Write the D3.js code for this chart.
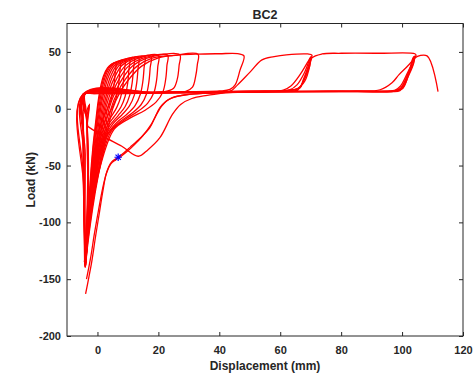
<!DOCTYPE html>
<html lang="en">
<head>
<meta charset="UTF-8">
<title>BC2</title>
<script src="https://d3js.org/d3.v7.min.js"></script>
<style>
    body { margin: 0; background: #ffffff; }
    svg { display: block; }
    .axis text {
        font-family: Arial, "Liberation Sans", sans-serif;
        font-weight: bold;
        font-size: 11px;
        fill: #262626;
    }
    .axis line { stroke: #262626; }
    .label {
        font-family: Arial, "Liberation Sans", sans-serif;
        font-weight: bold;
        fill: #262626;
    }
</style>
</head>
<body>
<svg id="chart" width="474" height="379"></svg>
<script>
// axis settings
const xTicks = [0, 20, 40, 60, 80, 100, 120];
const yTicks = [-200, -150, -100, -50, 0, 50];

// small cycles: reload from compression, peak, unload back down
const loop1 = [[-3.7,-134],[-3.1,-100],[-2.4,-64],[-1.5,-34],[-0.6,-12],[0.2,6],[1,19],[2,29],[3.3,36],[4.6,39],[6,40.5],
    [5.8,31],[5.4,20],[4.8,11],[3.8,3],[2.4,-5],[1,-14],[-0.3,-28],[-1.6,-55],[-2.8,-95],[-3.7,-134]];
const loop2 = [[-3.8,-136],[-3.1,-101],[-2.3,-65],[-1.4,-35],[-0.4,-12],[0.4,6],[1.3,19],[2.4,30],[3.8,37],[5.5,40.5],[7.5,42],
    [7.3,32],[6.9,20],[6.2,10],[5,2],[3.4,-6],[1.7,-15],[0.1,-29],[-1.4,-56],[-2.8,-96],[-3.8,-136]];
const loop3 = [[-3.9,-137],[-3.1,-102],[-2.2,-66],[-1.2,-36],[-0.2,-13],[0.7,5],[1.6,18.5],[2.8,30],[4.3,37.5],[6.3,41.2],[9,43],
    [8.8,33],[8.4,21],[7.6,10],[6.3,1],[4.5,-7],[2.5,-15],[0.6,-29],[-1.2,-57],[-2.8,-98],[-3.9,-137]];
const loop4 = [[-3.9,-138],[-3,-103],[-2.1,-67],[-1,-37],[0,-14],[1,4.5],[2,18],[3.3,30],[4.9,37.8],[7.2,42],[10.5,44],
    [10.3,34],[9.9,22],[9.1,11],[7.7,1.5],[5.6,-6.5],[3.3,-15],[1,-29],[-1,-57],[-2.8,-99],[-3.9,-138]];
const loop5 = [[-4,-139],[-3,-104],[-2,-68],[-0.8,-38],[0.3,-15],[1.3,4],[2.4,17.5],[3.8,29.5],[5.6,38],[8.2,42.5],[12,44.8],
    [11.8,35],[11.4,23],[10.6,12],[9.1,2],[6.8,-6],[4.1,-14.5],[1.5,-28],[-0.8,-57],[-2.8,-100],[-4,-139]];
const loop6 = [[-4,-139],[-2.9,-104],[-1.9,-69],[-0.6,-39],[0.6,-16],[1.7,3.5],[2.9,17],[4.4,29],[6.3,38],[9.2,43],[13.5,45.3],
    [13.3,35],[12.9,23],[12.1,12],[10.5,2.5],[8,-5.5],[5,-13.5],[2,-27],[-0.6,-57],[-2.8,-101],[-4,-139]];
const loop7 = [[-4.1,-139],[-2.9,-104],[-1.8,-70],[-0.4,-40],[0.9,-17],[2.1,3],[3.4,16.5],[5,28.5],[7.1,38],[10.4,43.5],[15.5,45.8],
    [15.3,36],[14.9,24],[14.1,13],[12.4,3],[9.6,-5],[6.2,-12.5],[2.7,-25],[-0.3,-56],[-2.7,-102],[-4.1,-139]];
const loop8 = [[-4.1,-138],[-2.8,-103],[-1.6,-70],[-0.2,-41],[1.2,-18],[2.5,2.5],[3.9,16],[5.7,28],[8,38],[11.7,43.8],[17.5,46.3],
    [17.3,36],[16.9,24],[16.1,13],[14.3,3.5],[11.3,-4],[7.4,-11.5],[3.4,-23],[0.2,-55],[-2.6,-102],[-4.1,-138]];
const loop9 = [[-4.2,-137],[-2.8,-102],[-1.5,-71],[0,-42],[1.5,-19],[2.9,2],[4.5,15.5],[6.5,27.5],[9,37.5],[13,44],[20,46.8],
    [19.8,37],[19.4,25],[18.5,14],[16.5,5],[13.2,-2.5],[9,-9.5],[4.5,-20],[0.7,-52],[-2.3,-95],[-4.2,-137]];
const loop10 = [[-4.2,-136],[-2.7,-101],[-1.3,-71],[0.3,-43],[1.9,-20],[3.4,1.5],[5.1,15],[7.3,27],[10.2,37.5],[14.5,44],[23,47.2],
    [22.8,38],[22.4,26],[21.5,15],[19.3,6],[15.5,-1.5],[10.5,-8.5],[5.5,-18],[1.2,-48],[-2,-90],[-4.2,-136]];

// cycles that unload onto the slip plateau
const loop11 = [[-4.3,-135],[-2.6,-100],[-1.1,-71],[0.6,-44],[2.3,-21],[3.9,1],[5.8,14.5],[8.2,26.5],[11.5,37.5],[16,44.3],[27,47.6],
    [26.8,38],[26.2,26],[25,18],[22,15],[12,14.3],[2,13.6],[-4,13.2],[-3.8,0],[-3.4,-15],[-3,-40],[-3,-70],[-3.4,-105],[-4,-137]];
const loop12 = [[-4.1,-138],[-2.5,-102],[-0.9,-72],[0.9,-45],[2.7,-22],[4.5,0.5],[6.5,14],[9.2,26],[13,37.5],[18,44.5],[25,47],[33,48],
    [32.8,39],[32.2,28],[31.2,19],[29,15.3],[20,14.6],[8,13.9],[-1,13.4],[-4.2,13],[-3.8,-3],[-2.8,3],[-3.3,-10],[-3.1,-40],[-3.1,-75],[-3.5,-108],[-3.9,-136]];
const loop47 = [[-3.9,-136],[-2.4,-103],[-0.7,-73],[1.2,-46],[3.1,-23],[5,0],[7.2,13.5],[10.2,25.5],[14.5,37.5],[20,44.8],[27,47.3],[33,48.1],[40,48.4],[46,48.5],[48.1,46.5],
    [46.8,34],[45.2,21],[43.5,17],[40,15.6],[25,14.8],[10,14],[-1,13.4],[-4.3,12.9],[-3.6,-6],[-3.2,-15.5]];
const loopV = [[-3.2,-15.5],[1.9,-24.3],[8,-33],[13.4,-41.8],[16.6,-36],[20.5,-25.5],[24.6,-5],[27.3,3.8],[31,9],[36,11.8],[41,13.8],[44,16],
    [46,21],[50,32],[54,43],[58,45.8],[62,47.4],[69,48.2],[70.4,47.2],[69.6,40],[67.5,25],[66.5,18.4],[63,16.2],[50,15.4],[30,14.6],[10,13.8],[-4.4,12.8],
    [-4.6,-20],[-4.5,-80],[-4.2,-137]];

// outer reload curves through the marked point
const star1 = [[-3.9,-163],[-2.8,-148],[-1.9,-135],[-0.6,-112],[0.6,-92],[1.8,-72],[3,-56],[4.6,-47],[6.8,-42.7],[8.8,-38.5],[10.7,-34],[14,-26],
    [17.2,-16.7],[19,-7],[20.5,0.9],[22.5,6.5],[24.4,9.6],[29.3,12.3],[36,13.6],[46,14.5],
    [55,15.2],[61,16.4],[63.5,20],[66.5,30],[69,41],[70.2,46],[69.6,40],[67.8,25],[66,18],[62,16],[45,15.3],[25,14.5],[5,13.6],[-4.2,13],
    [-4.4,-30],[-4.3,-90],[-4,-140]];
const star2 = [[-3.6,-150],[-2.3,-132],[-1,-110],[0.3,-90],[1.7,-70],[3,-56.5],[4.4,-48.5],[6,-45],[7.8,-41.8],[9.8,-37.5],[12,-32],[14.8,-24],
    [17.6,-14],[19.4,-5],[21,2],[23,7.5],[25.5,10.5],[30,12.6],[38,13.9],[48,14.6],
    [57,15.3],[63,16.5],[65.5,21],[68,32],[70,45.5],[69.7,38],[68,24],[65.5,17.5],[55,15.6],[35,14.8],[15,14],[-4.5,12.6],
    [-4.5,-40],[-4.2,-100],[-3.9,-138]];

// large cycles up to ~104 mm
const loop104 = [[-3.9,-138],[-4.5,-60],[-4.7,0],[-4.7,12.4],[5,13.2],[25,14],[45,14.6],[60,15.3],[65.8,16.6],[67.5,24],[69.5,36],[70.4,44.7],
    [73.7,48.2],[80,48.8],[92,48.8],[104.2,48.4],[104.6,47],[102,38],[99,30],[96.7,22.8],[92.8,16.7],[85,15.6],[65,15.2],[40,14.6],[15,13.9],[-4.3,13],
    [-3.6,-6],[-2.6,4],[-3.4,-16],[-3.2,-60],[-3.6,-105],[-4,-137]];
const loop104b = [[-4,-137],[-4.6,-70],[-4.8,-10],[-4.8,12.6],[10,13.6],[35,14.4],[65,15],[88,15.3],[96,15.6],[99.5,18],[101.5,28],[103.2,40],[104,46],
    [103.8,40],[101.8,27],[100.3,18],[98,15.8],[75,15.4],[45,14.8],[15,14],[-4.2,13.1],[-4,-40],[-4.1,-100],[-4.1,-136]];
const loop104c = [[-4.1,-136],[-4.6,-60],[-4.7,12.8],[20,14],[50,14.6],[80,15.1],[95,15.3],[99.3,15.8],[101,22],[102.5,33],[103.6,44.7],[104.3,46.3],
    [103.4,38],[100.5,22],[98.8,16.2],[80,15.5],[50,14.9],[20,14.2],[-4,13.3],[-3.5,-12],[-3,-60],[-3.6,-110],[-4,-137]];
const loopFinal = [[-4,-137],[-4.5,-70],[-4.7,13],[20,14.1],[50,14.7],[80,15.2],[94,15.5],[97.5,16],[99.5,20],[101.5,30],[103.3,40],[104.2,44.7],
    [108.2,46.5],[111.8,15]];

const markerPoint = [6.8, -42.7];

const loops = [loop1, loop2, loop3, loop4, loop5, loop6, loop7, loop8, loop9, loop10,
    loop11, loop12, loop47, loopV, star1, star2, loop104, loop104b, loop104c, loopFinal];

const svg = d3.select("#chart");
const margin = { left: 67, right: 463, top: 23.5, bottom: 336 };

const x = d3.scaleLinear().domain([-10, 120]).range([margin.left, margin.right]);
const y = d3.scaleLinear().domain([-200, 75]).range([margin.bottom, margin.top]);

// data lines
const line = d3.line()
    .x(d => x(d[0]))
    .y(d => y(d[1]))
    .curve(d3.curveCatmullRom.alpha(0.5));

svg.append("g")
    .selectAll("path")
    .data(loops)
    .enter().append("path")
    .attr("d", line)
    .attr("fill", "none")
    .attr("stroke", "#ff0000")
    .attr("stroke-width", 1.3)
    .attr("stroke-linejoin", "round");

// blue star marker
const g = svg.append("g").attr("transform", `translate(${x(markerPoint[0])},${y(markerPoint[1])})`);
g.append("path").attr("d", d3.symbol(d3.symbolPlus, 20)()).attr("fill", "none").attr("stroke", "#0000ff").attr("stroke-width", 1.2);
g.append("path").attr("d", d3.symbol(d3.symbolTimes, 20)()).attr("fill", "none").attr("stroke", "#0000ff").attr("stroke-width", 1.2);

// axes (ticks pointing inward, box on)
const fmt = d => String(d);
const xAxis = d3.axisBottom(x).tickValues(xTicks).tickSizeInner(-4).tickSizeOuter(0).tickPadding(10).tickFormat(fmt);
const yAxis = d3.axisLeft(y).tickValues(yTicks).tickSizeInner(-4).tickSizeOuter(0).tickPadding(6).tickFormat(fmt);
const xTop = d3.axisTop(x).tickValues(xTicks).tickSizeInner(-4).tickSizeOuter(0).tickFormat("");
const yRight = d3.axisRight(y).tickValues(yTicks).tickSizeInner(-4).tickSizeOuter(0).tickFormat("");

svg.append("g").attr("class", "axis").attr("transform", `translate(0,${margin.bottom})`).call(xAxis);
svg.append("g").attr("class", "axis").attr("transform", `translate(${margin.left},0)`).call(yAxis);
svg.append("g").attr("class", "axis").attr("transform", `translate(0,${margin.top})`).call(xTop);
svg.append("g").attr("class", "axis").attr("transform", `translate(${margin.right},0)`).call(yRight);
svg.selectAll(".axis .domain").remove();

svg.append("rect")
    .attr("x", margin.left)
    .attr("y", margin.top)
    .attr("width", margin.right - margin.left)
    .attr("height", margin.bottom - margin.top)
    .attr("fill", "none")
    .attr("stroke", "#262626")
    .attr("stroke-width", 1);

// labels
svg.append("text").attr("class", "label")
    .attr("x", (margin.left + margin.right) / 2).attr("y", 19)
    .attr("text-anchor", "middle").attr("font-size", "12.5px")
    .text("BC2");
svg.append("text").attr("class", "label")
    .attr("x", (margin.left + margin.right) / 2).attr("y", 370)
    .attr("text-anchor", "middle").attr("font-size", "12px")
    .text("Displacement (mm)");
svg.append("text").attr("class", "label")
    .attr("transform", `translate(35,${(margin.top + margin.bottom) / 2}) rotate(-90)`)
    .attr("text-anchor", "middle").attr("font-size", "12px")
    .text("Load (kN)");
</script>
</body>
</html>
